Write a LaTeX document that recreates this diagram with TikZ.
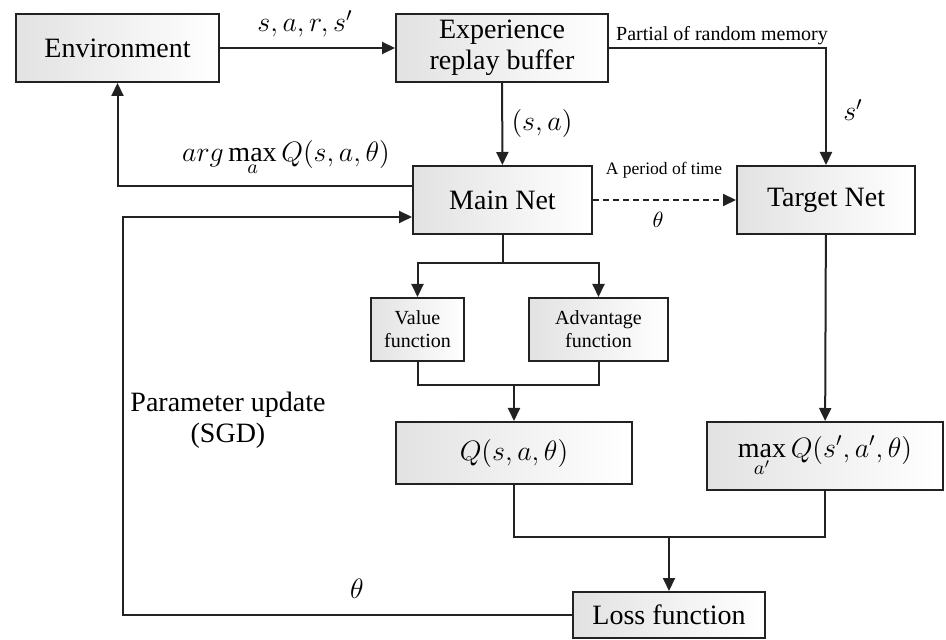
\RequirePackage{fix-cm}
\documentclass[tikz,border=0pt]{standalone}
\usepackage{fontspec}
\setmainfont{Liberation Serif}
\usetikzlibrary{arrows.meta}
\definecolor{linec}{HTML}{222222}
\definecolor{boxgray}{HTML}{E2E2E2}
\newcommand{\bigtxt}{\fontsize{14}{15.5}\selectfont}
\newcommand{\midtxt}{\fontsize{10}{11.5}\selectfont}
\begin{document}
\begin{tikzpicture}[x=0.5pt,y=-0.5pt,
  box/.style={draw=linec, line width=1pt, left color=boxgray, right color=white,
    inner sep=0pt, align=center, font=\bigtxt},
  smallbox/.style={box, font=\midtxt},
  conn/.style={draw=linec, line width=1pt},
  arr/.style={conn, -{Triangle[length=6.5pt,width=6pt]}},
  lbl/.style={inner sep=0pt, font=\bigtxt, align=center},
  note/.style={inner sep=0pt, font=\midtxt}]
\useasboundingbox (0,0) rectangle (946,640);

% blocks
\node[box, minimum width=101.5pt, minimum height=34pt] (env) at (117.5,48) {Environment};
\node[box, minimum width=106pt, minimum height=34pt] (erb) at (502,48) {Experience\\replay buffer};
\node[box, minimum width=89.5pt, minimum height=34pt] (main) at (502.5,200) {Main Net};
\node[box, minimum width=89pt, minimum height=34pt] (target) at (826,200) {Target Net};
\node[smallbox, minimum width=46.5pt, minimum height=31.5pt] (value) at (417.5,329.5) {Value\\function};
\node[smallbox, minimum width=69.5pt, minimum height=31.5pt] (adv) at (598.5,329.5) {Advantage\\function};
\node[box, minimum width=118pt, minimum height=31pt] (q) at (514,453) {$Q(s,a,\theta)$};
\node[box, minimum width=118pt, minimum height=34pt] (maxq) at (825,456) {$\max\limits_{a'} Q(s',a',\theta)$};
\node[box, minimum width=96pt, minimum height=23pt] (loss) at (669,615) {Loss function};

% junction points
\coordinate (split) at (502.5,263);
\coordinate (join) at (514,385);
\coordinate (lj) at (669,537);
\coordinate (pu) at (123,615);

% environment <-> buffer <-> networks
\draw[arr] (env) -- (erb);
\node[lbl] (sars) at (305,24) {$s,a,r,s'$};
\draw[arr] (erb) -- (main);
\node[lbl] (sa) at (542,124) {$(s,a)$};
\draw[arr] (erb.east) -| (target.north);
\node[note] (partial) at (722,36) {Partial of random memory};
\node[lbl] (sp) at (853,110) {$s'$};
\draw[arr, dash pattern=on 3pt off 2pt] (main) -- (target);
\node[inner sep=0pt, font=\fontsize{8.75}{10}\selectfont] (period) at (664,170) {A period of time};
\node[inner sep=0pt, font=\fontsize{11}{12}\selectfont] (th1) at (658,220) {$\theta$};

% action back to the environment
\draw[arr] ([yshift=7pt]main.west) -| (env.south);
\node[lbl] (argmax) at (286,158) {$arg\max\limits_{a} Q(s,a,\theta)$};

% dueling heads
\draw[conn] (main) -- (split);
\draw[arr] (split) -| (value.north);
\draw[arr] (split) -| (adv.north);
\draw[conn] (value.south) |- (join);
\draw[conn] (adv.south) |- (join);
\draw[arr] (join) -- (q.north);

% loss
\draw[arr] (target) -- (maxq);
\draw[conn] (q.south) |- (lj) -| (maxq.south);
\draw[arr] (lj) -- (loss);

% parameter update loop
\draw[arr] (loss.west) -- (loss.west -| pu) |- ([yshift=-8.5pt]main.west);
\node[lbl] (sgd) at (228,420) {Parameter update\\(SGD)};
\node[lbl] (th2) at (357,589) {$\theta$};
\end{tikzpicture}
\end{document}
